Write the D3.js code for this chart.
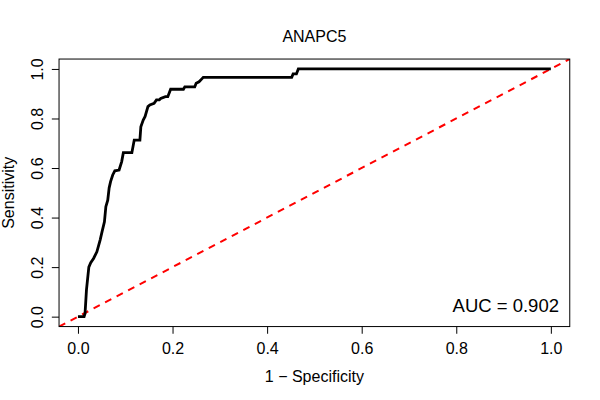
<!DOCTYPE html>
<html>
<head>
<meta charset="utf-8">
<script src="https://cdn.jsdelivr.net/npm/d3@7"></script>
<style>
  body { margin: 0; background: #fff; }
  text { font-family: "Liberation Sans", Arial, Helvetica, sans-serif; fill: #000; }
</style>
</head>
<body>
<script>
const title = "ANAPC5";
const aucLabel = "AUC = 0.902";
const xLabel = "1 \u2212 Specificity";
const yLabel = "Sensitivity";

// ROC points
const fpr = [0, 0.013, 0.015, 0.018, 0.023, 0.027, 0.033, 0.040, 0.047, 0.051, 0.056, 0.059, 0.063,
  0.066, 0.069, 0.0735, 0.078, 0.087, 0.0925, 0.096, 0.114, 0.119, 0.131, 0.133, 0.138, 0.142,
  0.148, 0.152, 0.161, 0.166, 0.172, 0.175, 0.185, 0.190, 0.196, 0.223, 0.226, 0.247, 0.250,
  0.256, 0.262, 0.265, 0.452, 0.455, 0.462, 0.466, 1.0];
const tpr = [0, 0, 0.013, 0.108, 0.200, 0.218, 0.235, 0.262, 0.310, 0.343, 0.383, 0.444, 0.470,
  0.520, 0.545, 0.572, 0.589, 0.592, 0.626, 0.662, 0.662, 0.713, 0.713, 0.767, 0.794, 0.808,
  0.848, 0.855, 0.861, 0.875, 0.875, 0.881, 0.888, 0.888, 0.918, 0.918, 0.928, 0.928, 0.942,
  0.948, 0.960, 0.966, 0.966, 0.980, 0.980, 1.0, 1.0];

const xTicks = [0, 0.2, 0.4, 0.6, 0.8, 1.0];
const yTicks = [0, 0.2, 0.4, 0.6, 0.8, 1.0];

const w = 600;
const h = 400;
const plotLeft = 59.04, plotRight = 569.76, plotTop = 59.04, plotBottom = 326.56;

const xScale = d3.scaleLinear().domain([-0.04, 1.04]).range([plotLeft, plotRight]);
const yScale = d3.scaleLinear().domain([-0.04, 1.04]).range([plotBottom, plotTop]);

const svg = d3.select("body")
  .append("svg")
  .attr("width", w)
  .attr("height", h);

svg.append("defs").append("clipPath")
  .attr("id", "plot-clip")
  .append("rect")
  .attr("x", plotLeft)
  .attr("y", plotTop)
  .attr("width", plotRight - plotLeft)
  .attr("height", plotBottom - plotTop);

// diagonal reference line
svg.append("line")
  .attr("clip-path", "url(#plot-clip)")
  .attr("x1", xScale(-0.04)).attr("y1", yScale(-0.04))
  .attr("x2", xScale(1.04)).attr("y2", yScale(1.04))
  .attr("stroke", "#ff0000")
  .attr("stroke-width", 2)
  .attr("stroke-dasharray", "7,6");

// roc curve
const points = fpr.map((f, i) => [f, tpr[i]]);
const line = d3.line()
  .x(d => xScale(d[0]))
  .y(d => yScale(d[1]));

svg.append("path")
  .datum(points)
  .attr("d", line)
  .attr("fill", "none")
  .attr("stroke", "#000")
  .attr("stroke-width", 2.8)
  .attr("stroke-linejoin", "miter");

// box
svg.append("rect")
  .attr("x", plotLeft)
  .attr("y", plotTop)
  .attr("width", plotRight - plotLeft)
  .attr("height", plotBottom - plotTop)
  .attr("fill", "none")
  .attr("stroke", "#000")
  .attr("stroke-width", 1);

// axes
const xAxis = d3.axisBottom(xScale)
  .tickValues(xTicks)
  .tickFormat(d3.format(".1f"))
  .tickSize(7.2);

const gx = svg.append("g")
  .attr("id", "x-axis")
  .attr("transform", `translate(0,${plotBottom})`)
  .call(xAxis);
gx.select(".domain").remove();
gx.selectAll("line").attr("stroke", "#000");
gx.selectAll("text")
  .style("font-size", "16px")
  .attr("dy", null)
  .attr("y", 27);

const yAxis = d3.axisLeft(yScale)
  .tickValues(yTicks)
  .tickFormat(d3.format(".1f"))
  .tickSize(7.2);

const gy = svg.append("g")
  .attr("id", "y-axis")
  .attr("transform", `translate(${plotLeft},0)`)
  .call(yAxis);
gy.select(".domain").remove();
gy.selectAll("line").attr("stroke", "#000");
gy.selectAll("text")
  .style("font-size", "16px")
  .attr("x", null)
  .attr("dy", null)
  .attr("text-anchor", "middle")
  .attr("transform", "translate(-16.5,0) rotate(-90)");

// titles
svg.append("text")
  .attr("x", (plotLeft + plotRight) / 2)
  .attr("y", 41.7)
  .attr("text-anchor", "middle")
  .style("font-size", "16px")
  .text(title);

svg.append("text")
  .attr("x", (plotLeft + plotRight) / 2)
  .attr("y", 381.7)
  .attr("text-anchor", "middle")
  .style("font-size", "16px")
  .text(xLabel);

svg.append("text")
  .attr("transform", `translate(13.5,${(plotTop + plotBottom) / 2}) rotate(-90)`)
  .attr("text-anchor", "middle")
  .style("font-size", "16px")
  .text(yLabel);

svg.append("text")
  .attr("x", 559)
  .attr("y", 311.5)
  .attr("text-anchor", "end")
  .style("font-size", "18.5px")
  .text(aucLabel);
</script>
</body>
</html>
